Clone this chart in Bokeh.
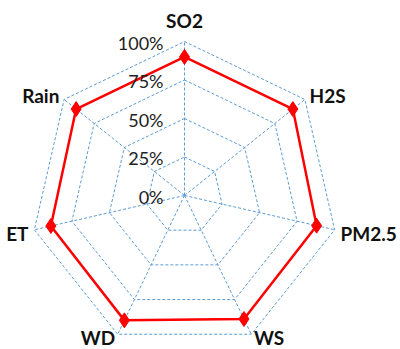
import numpy as np
from bokeh.plotting import figure
from bokeh.models import Range1d, ColumnDataSource
from bokeh.core.properties import value
from bokeh.embed import file_html
from bokeh.resources import INLINE

categories = ["SO2", "H2S", "PM2.5", "WS", "WD", "ET", "Rain"]
values = [0.90, 0.90, 0.88, 0.89, 0.90, 0.89, 0.90]
grid_levels = [0.0, 0.25, 0.50, 0.75, 1.0]
tick_labels = ["0%", "25%", "50%", "75%", "100%"]

W, H = 400, 349
R_PX = 154.0          # pixel radius of 100%
CX, CY = 184.0, 195.0  # center in figure pixels

n = len(categories)
theta = np.arange(n) * 2 * np.pi / n

p = figure(width=W, height=H, output_backend="svg", toolbar_location=None,
           min_border=0, outline_line_color=None)
p.x_range = Range1d(-CX / R_PX, (W - CX) / R_PX)
p.y_range = Range1d(-(H - CY) / R_PX, CY / R_PX)
p.axis.visible = False
p.grid.visible = False
p.background_fill_color = "white"
p.border_fill_color = "white"

GRID_COLOR = "#5B9BD5"
# heptagon grid
for lvl in grid_levels[1:]:
    xs = list(lvl * np.sin(theta)) + [lvl * np.sin(theta[0])]
    ys = list(lvl * np.cos(theta)) + [lvl * np.cos(theta[0])]
    p.line(xs, ys, line_color=GRID_COLOR, line_width=1, line_dash="3 2")
# spokes
for t in theta:
    p.line([0, np.sin(t)], [0, np.cos(t)], line_color=GRID_COLOR, line_width=1, line_dash="3 2")

# data
vx = [v * np.sin(t) for v, t in zip(values, theta)]
vy = [v * np.cos(t) for v, t in zip(values, theta)]
p.line(vx + [vx[0]], vy + [vy[0]], line_color="#FF0000", line_width=2.5)
p.scatter(vx, vy, marker="diamond", size=15, fill_color="#FF0000", line_color="#FF0000")

# tick labels along SO2 axis
p.text(x=[0.0] * len(grid_levels), y=grid_levels, text=tick_labels,
       text_font=value("Lato"), text_font_size="18px", text_color="#222222",
       text_align="right", text_baseline="middle", x_offset=-21, y_offset=1)

# category labels
aligns, baselines, xo, yo = [], [], [], []
for t in theta:
    s, c = np.sin(t), np.cos(t)
    if abs(s) < 0.1:
        aligns.append("center")
    elif s > 0:
        aligns.append("left")
    else:
        aligns.append("right")
    baselines.append("middle")
    xo.append(float(6 * s))
    if c > 0.9:
        yo.append(-21.0)
    elif c < -0.8:
        yo.append(3.0)
    elif c > 0:
        yo.append(-4.0)
    else:
        yo.append(4.0)
src = ColumnDataSource(dict(x=list(np.sin(theta)), y=list(np.cos(theta)), text=categories,
                            align=aligns, base=baselines, xo=xo, yo=yo))
p.text(x="x", y="y", text="text", source=src, text_align="align", text_baseline="base",
       x_offset="xo", y_offset="yo", text_font=value("Lato"), text_font_size="19px",
       text_font_style="bold", text_color="#111111")

open("out.html", "w").write(file_html(p, INLINE))
